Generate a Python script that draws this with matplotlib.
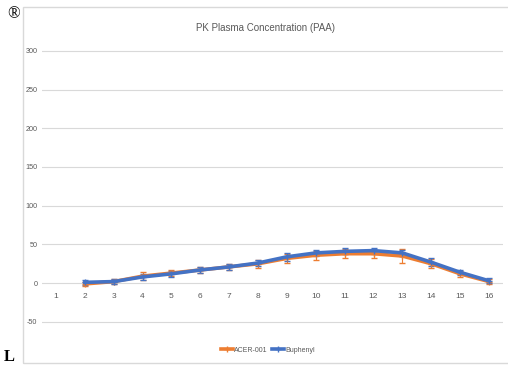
import matplotlib.pyplot as plt
from matplotlib.lines import Line2D
from matplotlib.patches import Rectangle

plt.rcParams['font.family'] = ['Liberation Sans Narrow', 'Liberation Sans', 'DejaVu Sans']

# Time points and mean plasma PAA concentration
timepoints = list(range(1, 17))
acer_x = list(range(2, 17))
acer_y = [-1, 2, 9, 13, 17, 21, 25, 32, 36, 38, 38, 35, 25, 12, 2]
acer_err = [3, 3, 5, 4, 4, 4, 5, 6, 6, 6, 5, 9, 6, 4, 3]
buph_x = list(range(2, 17))
buph_y = [1, 2, 8, 12, 17, 21, 26, 34, 39, 41, 42, 39, 27, 14, 3]
buph_err = [3, 3, 4, 4, 4, 4, 4, 5, 4, 4, 3, 4, 5, 3, 3]
yticks = [-50, 0, 50, 100, 150, 200, 250, 300]

fig = plt.figure(figsize=(5.08, 3.67), dpi=100)
ax = fig.add_axes([41.6 / 508, 1 - 335 / 367, (503.4 - 41.6) / 508, (335 - 40) / 367])

# chart area frame
frame = Rectangle((23 / 508, 4 / 367), 1, 356 / 367, transform=fig.transFigure,
                  fill=False, edgecolor='#d9d9d9', linewidth=1, zorder=-1)
fig.patches.append(frame)

orange = '#ed7d31'
blue = '#4472c4'
ax.errorbar(acer_x, acer_y, yerr=acer_err, color=orange, linewidth=2.6, marker='+',
            markersize=5, capsize=2, elinewidth=0.8)
ax.errorbar(buph_x, buph_y, yerr=buph_err, color=blue, linewidth=2.6, marker='+',
            markersize=5, capsize=2, elinewidth=0.8)

ax.set_xlim(0.5, 16.5)
ax.set_ylim(-67, 314)
ax.set_yticks(yticks)
ax.set_yticklabels([str(v) for v in yticks], fontsize=5.2, color='#595959')
ax.yaxis.grid(True, color='#d9d9d9', linewidth=0.8)
ax.set_axisbelow(True)
ax.tick_params(axis='both', length=0, pad=3)
ax.set_xticks([])
for t in timepoints:
    ax.text(t, -17, str(t), ha='center', va='center', fontsize=6, color='#595959')
for s in ax.spines.values():
    s.set_visible(False)

fig.text(265 / 508, 1 - 28 / 367, 'PK Plasma Concentration (PAA)', ha='center', va='center',
         fontsize=7, color='#595959')
handles = [Line2D([], [], color=orange, linewidth=2.6, marker='+', markersize=5),
           Line2D([], [], color=blue, linewidth=2.6, marker='+', markersize=5)]
leg = fig.legend(handles, ['ACER-001', 'Buphenyl'], loc='center',
                 bbox_to_anchor=(268 / 508, 1 - 350 / 367), ncol=2, frameon=False,
                 fontsize=5, handlelength=1.7, columnspacing=0.6, handletextpad=0.2)
for txt in leg.get_texts():
    txt.set_color('#595959')

fig.text(14 / 508, 1 - 14 / 367, '\u00ae', ha='center', va='center', fontsize=12,
         family=['Liberation Serif', 'DejaVu Serif'])
fig.text(9 / 508, 1 - 357 / 367, 'L', ha='center', va='center', fontsize=12, fontweight='bold',
         family=['Liberation Serif', 'DejaVu Serif'])

fig.savefig('out.png', dpi=100)
